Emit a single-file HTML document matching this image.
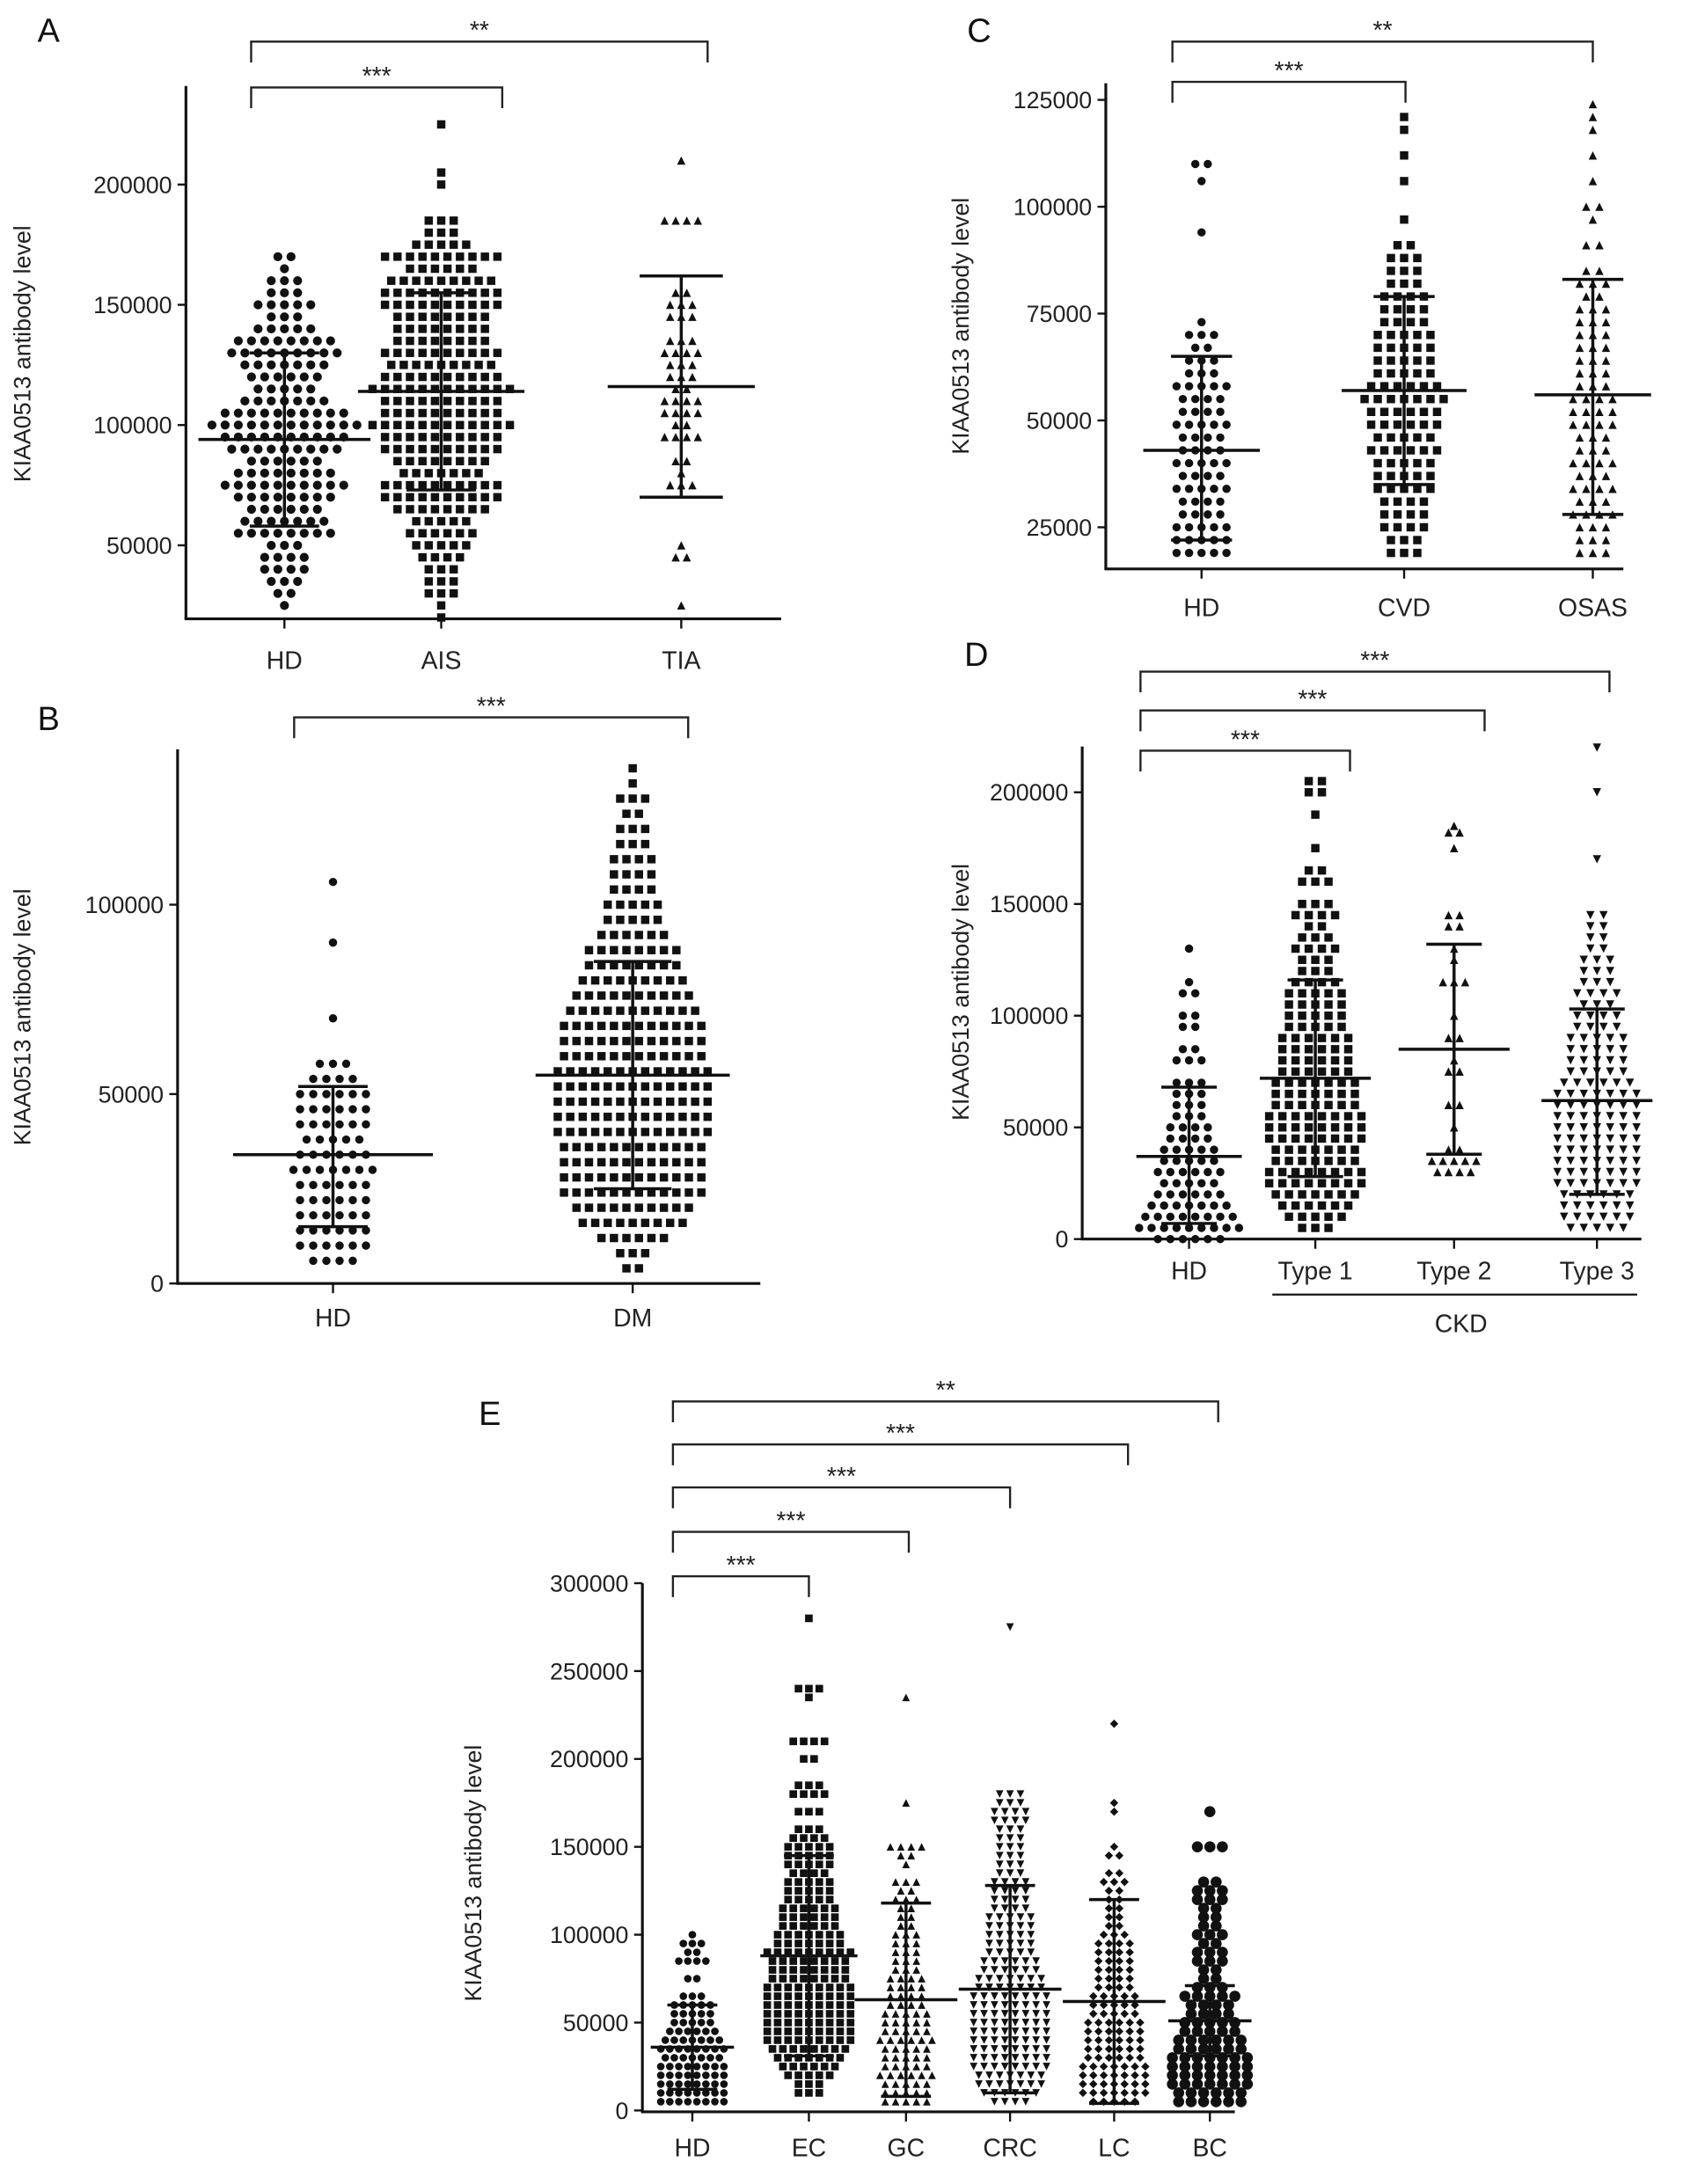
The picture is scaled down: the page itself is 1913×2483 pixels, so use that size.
<!DOCTYPE html>
<html><head><meta charset="utf-8"><style>
html,body{margin:0;padding:0;background:#fff;}
svg{display:block;font-family:"Liberation Sans",Arial,sans-serif;}
</style></head><body>
<svg id="fig" width="1913" height="2483" viewBox="0 0 1213 1574" preserveAspectRatio="none" xmlns="http://www.w3.org/2000/svg"></svg>
<script>
// ---------- DATA (values in thousands; [level, count of dots at that level]) ----------
const aCats=["HD","AIS","TIA"];
const aMeans=[94,114,116], aSdHi=[130,155,162], aSdLo=[58,73,70];
const aHD=[[25,1],[30,2],[35,3],[40,4],[45,4],[50,3],[55,8],[60,7],[65,6],[70,8],[75,10],[80,8],[85,6],[90,9],[95,10],[100,12],[105,10],[110,7],[115,5],[120,6],[125,7],[130,9],[135,8],[140,5],[145,3],[150,5],[155,3],[160,3],[165,1],[170,2]];
const aAIS=[[20,1],[25,1],[30,3],[35,3],[40,3],[45,4],[50,5],[55,6],[60,5],[65,8],[70,10],[75,10],[80,7],[85,8],[90,10],[95,10],[100,12],[105,10],[110,10],[115,12],[120,10],[125,9],[130,10],[135,8],[140,8],[145,8],[150,10],[155,10],[160,9],[165,6],[170,10],[175,5],[180,3],[185,3],[200,1],[205,1],[225,1]];
const aTIA=[[25,1],[45,2],[50,1],[75,3],[80,1],[85,2],[95,4],[100,2],[105,4],[110,4],[115,2],[120,3],[125,3],[130,4],[135,3],[145,3],[150,3],[155,2],[185,4],[210,1]];
const aTicks=[50,100,150,200];

const bCats=["HD","DM"];
const bMeans=[34,55], bSdHi=[52,85], bSdLo=[15,25];
const bHD=[[6,4],[10,6],[14,6],[18,6],[22,6],[26,6],[30,7],[34,6],[38,5],[42,6],[46,6],[50,6],[54,4],[58,3],[70,1],[90,1],[106,1]];
const bDM=[[4,2],[8,3],[12,6],[16,9],[20,10],[24,12],[28,12],[32,12],[36,12],[40,13],[44,13],[48,13],[52,13],[56,13],[60,12],[64,12],[68,12],[72,11],[76,10],[80,9],[84,8],[88,8],[92,6],[96,5],[100,5],[104,4],[108,4],[112,4],[116,3],[120,3],[124,2],[128,3],[132,1],[136,1]];
const bTicks=[0,50,100];

const cCats=["HD","CVD","OSAS"];
const cMeans=[43,57,56], cSdHi=[65,79,83], cSdLo=[22,35,28];
const cHD=[[19,5],[22,5],[25,5],[28,4],[31,4],[34,5],[37,4],[40,5],[43,4],[46,4],[49,5],[52,4],[55,4],[58,5],[61,3],[64,3],[67,2],[70,3],[73,1],[94,1],[106,1],[110,2]];
const cCVD=[[19,3],[22,3],[25,4],[28,4],[31,4],[34,5],[37,5],[40,5],[43,6],[46,5],[49,6],[52,6],[55,7],[58,6],[61,5],[64,5],[67,5],[70,5],[73,4],[76,4],[79,4],[82,3],[85,3],[88,3],[91,2],[97,1],[106,1],[112,1],[118,1],[121,1]];
const cOSAS=[[19,3],[22,3],[25,3],[28,4],[31,3],[34,4],[37,3],[40,4],[43,3],[46,3],[49,4],[52,4],[55,4],[58,3],[61,3],[64,3],[67,3],[70,3],[73,3],[76,3],[79,2],[82,3],[85,2],[91,2],[97,1],[100,2],[106,1],[112,1],[118,1],[121,1],[124,1]];
const cTicks=[25,50,75,100,125];

const dCats=["HD","Type 1","Type 2","Type 3"];
const dMeans=[37,72,85,62], dSdHi=[68,116,132,103], dSdLo=[7,28,38,20];
const dHD=[[0,6],[5,9],[10,8],[15,7],[20,6],[25,5],[30,6],[35,5],[40,5],[45,4],[50,4],[55,3],[60,3],[65,3],[70,3],[80,3],[85,2],[95,2],[100,2],[110,2],[115,1],[130,1]];
const dT1=[[5,3],[10,5],[15,6],[20,7],[25,8],[30,8],[35,7],[40,7],[45,8],[50,8],[55,8],[60,7],[65,7],[70,7],[75,6],[80,6],[85,6],[90,6],[95,5],[100,5],[105,5],[110,5],[115,4],[120,3],[125,3],[130,4],[135,3],[140,2],[145,4],[150,3],[160,3],[165,2],[175,1],[190,1],[200,2],[205,2]];
const dT2=[[30,4],[35,5],[40,2],[50,1],[60,2],[75,2],[80,1],[90,2],[100,1],[115,3],[125,1],[130,1],[140,2],[145,2],[175,1],[182,2],[185,1]];
const dT3=[[5,5],[10,6],[15,6],[20,6],[25,7],[30,7],[35,7],[40,7],[45,7],[50,7],[55,7],[60,7],[65,7],[70,6],[75,5],[80,5],[85,5],[90,5],[95,4],[100,4],[105,3],[110,4],[115,3],[120,3],[125,3],[130,2],[135,2],[140,2],[145,2],[170,1],[200,1],[220,1]];
const dTicks=[0,50,100,150,200];

const eCats=["HD","EC","GC","CRC","LC","BC"];
const eMeans=[36,88,63,69,62,51], eSdHi=[60,145,118,128,120,71], eSdLo=[12,31,8,10,4,31];
const eHD=[[5,8],[10,8],[15,8],[20,8],[25,8],[30,7],[35,8],[40,7],[45,6],[50,5],[55,5],[60,5],[65,3],[75,2],[85,4],[90,2],[95,3],[100,1]];
const eEC=[[10,3],[15,3],[20,5],[25,6],[30,7],[35,8],[40,9],[45,9],[50,9],[55,9],[60,9],[65,9],[70,9],[75,8],[80,8],[85,8],[90,9],[95,7],[100,7],[105,6],[110,6],[115,6],[120,5],[125,5],[130,5],[135,4],[140,5],[145,5],[150,5],[155,4],[160,3],[170,3],[180,4],[185,3],[200,2],[210,4],[235,1],[240,3],[280,1]];
const eGC=[[5,5],[10,5],[15,5],[20,6],[25,5],[30,5],[35,5],[40,6],[45,5],[50,5],[55,5],[60,4],[65,4],[70,4],[75,4],[80,3],[85,3],[90,3],[95,3],[100,3],[105,2],[110,2],[115,2],[120,3],[125,2],[130,3],[140,1],[145,2],[150,4],[175,1],[235,1]];
const eCRC=[[5,4],[10,6],[15,7],[20,7],[25,8],[30,8],[35,8],[40,8],[45,8],[50,8],[55,8],[60,8],[65,8],[70,7],[75,7],[80,6],[85,6],[90,5],[95,5],[100,5],[105,5],[110,5],[115,4],[120,4],[125,4],[130,4],[135,3],[140,3],[145,3],[150,3],[155,3],[160,3],[165,4],[170,4],[175,3],[180,3],[275,1]];
const eLC=[[5,5],[10,7],[15,7],[20,7],[25,7],[30,6],[35,6],[40,6],[45,6],[50,6],[55,5],[60,5],[65,5],[70,4],[75,4],[80,4],[85,4],[90,4],[95,4],[100,3],[105,2],[110,2],[115,2],[120,2],[125,2],[130,3],[135,2],[145,2],[150,1],[170,1],[175,1],[220,1]];
const eBC=[[5,6],[10,6],[15,7],[20,7],[25,7],[30,7],[35,6],[40,6],[45,5],[50,5],[55,4],[60,4],[65,5],[70,3],[75,2],[80,2],[85,3],[90,3],[95,2],[100,3],[105,2],[110,2],[115,2],[120,3],[125,3],[130,2],[150,3],[170,1]];
const eTicks=[0,50,100,150,200,250,300];

// ---------- DRAWING ----------
const NS="http://www.w3.org/2000/svg";
const svg=document.getElementById('fig');
function el(tag,attrs,parent,txt){const e=document.createElementNS(NS,tag);for(const k in attrs)e.setAttribute(k,attrs[k]);if(txt!==undefined)e.textContent=txt;(parent||svg).appendChild(e);return e;}
function fmt(v){return String(Math.round(v*1000));}

function marker(g,shape,x,y,s){
  let m;
  if(shape==='circle'){m=el('circle',{cx:x,cy:y,r:s/2,fill:'#111'},g);}
  else if(shape==='square'){m=el('rect',{x:x-s/2,y:y-s/2,width:s,height:s,fill:'#111'},g);}
  else if(shape==='up'){m=el('polygon',{points:`${x},${y-s/2} ${x-s/2},${y+s/2} ${x+s/2},${y+s/2}`,fill:'#111'},g);}
  else if(shape==='down'){m=el('polygon',{points:`${x},${y+s/2} ${x-s/2},${y-s/2} ${x+s/2},${y-s/2}`,fill:'#111'},g);}
  else {m=el('polygon',{points:`${x},${y-s/2} ${x-s/2},${y} ${x},${y+s/2} ${x+s/2},${y}`,fill:'#111'},g);}
  
  
}

function panel(p){
  const g=el('g',{});
  
  
  const yOf=v=>p.y0+(v-p.v0)*(p.y1-p.y0)/(p.v1-p.v0);
  const L=el('text',{x:p.letter[0],y:p.letter[1],'font-size':24,fill:'#111'},g,p.letterText);
  
  const ya=el('line',{x1:p.ax,y1:p.axTop,x2:p.ax,y2:p.axBot,stroke:'#111','stroke-width':2},g);
  
  const xa=el('line',{x1:p.ax-1,y1:p.axBot,x2:p.axRight,y2:p.axBot,stroke:'#111','stroke-width':2},g);
  
  p.ticks.forEach(t=>{
    const y=yOf(t);
    el('line',{x1:p.ax-6,y1:y,x2:p.ax,y2:y,stroke:'#111','stroke-width':1.5},g);
    const tl=el('text',{x:p.ax-10,y:y+6,'font-size':17,'text-anchor':'end',fill:'#222'},g,fmt(t));
    
  });
  const yt=el('text',{transform:`translate(${p.titleX},${p.titleY}) rotate(-90)`,'font-size':17,'text-anchor':'middle',fill:'#222'},g,'KIAA0513 antibody level');
  
  p.cats.forEach((c,i)=>{
    const x=p.xs[i];
    el('line',{x1:x,y1:p.axBot,x2:x,y2:p.axBot+7,stroke:'#111','stroke-width':1.5},g);
    const xl=el('text',{x:x,y:p.labelY,'font-size':18,'text-anchor':'middle',fill:'#222'},g,c);
    
    const gr=el('g',{},g);
    
    
    const sp=p.sp[i], sz=p.sz[i];
    p.data[i].forEach(([v,n])=>{
      const y=yOf(v);
      for(let k=0;k<n;k++){const off=(k-(n-1)/2)*sp;marker(gr,p.shapes[i],x+off,y,sz);}
    });
    const mh=p.meanHalf[i], sh=p.sdHalf[i];
    const eb=el('g',{stroke:'#111','stroke-width':2.2},gr);
    
    el('line',{x1:x,y1:yOf(p.hi[i]),x2:x,y2:yOf(p.lo[i])},eb);
    el('line',{x1:x-mh,y1:yOf(p.means[i]),x2:x+mh,y2:yOf(p.means[i])},eb);
    el('line',{x1:x-sh,y1:yOf(p.hi[i]),x2:x+sh,y2:yOf(p.hi[i])},eb);
    el('line',{x1:x-sh,y1:yOf(p.lo[i]),x2:x+sh,y2:yOf(p.lo[i])},eb);
  });
  p.brackets.forEach(b=>{
    const bg=el('g',{},g);
    
    el('path',{d:`M${b[0]},${b[2]+15} V${b[2]} H${b[1]} V${b[2]+15}`,fill:'none',stroke:'#222','stroke-width':1.5},bg);
    el('text',{x:(b[0]+b[1])/2,y:b[2]-2,'font-size':18,'text-anchor':'middle',fill:'#222'},bg,b[3]);
  });
  return g;
}

panel({name:'panel-a',letterText:'A',letter:[27,30],ax:134,axTop:62,axBot:446,axRight:563,y0:393,v0:50,y1:133,v1:200,
  ticks:aTicks,titleX:22,titleY:255,cats:aCats,xs:[205,318,491],labelY:482,
  data:[aHD,aAIS,aTIA],shapes:['circle','square','up'],sp:[9.5,9,8],sz:[6.5,6,6],
  means:aMeans,hi:aSdHi,lo:aSdLo,meanHalf:[62,60,53],sdHalf:[25,25,30],
  brackets:[[181,510,30,'**'],[181,362,63,'***']]});

panel({name:'panel-b',letterText:'B',letter:[27,526],ax:128,axTop:540,axBot:925,axRight:548,y0:925,v0:0,y1:652,v1:100,
  ticks:bTicks,titleX:22,titleY:733,cats:bCats,xs:[240,456],labelY:956,
  data:[bHD,bDM],shapes:['circle','square'],sp:[9.5,9],sz:[6,6],
  means:bMeans,hi:bSdHi,lo:bSdLo,meanHalf:[72,70],sdHalf:[25,28],
  brackets:[[212,496,517,'***']]});

panel({name:'panel-c',letterText:'C',letter:[697,30],ax:797,axTop:60,axBot:410,axRight:1170,y0:380,v0:25,y1:72,v1:125,
  ticks:cTicks,titleX:698,titleY:235,cats:cCats,xs:[866,1012,1148],labelY:444,
  data:[cHD,cCVD,cOSAS],shapes:['circle','square','up'],sp:[9,9.5,9.5],sz:[6,6,6],
  means:cMeans,hi:cSdHi,lo:cSdLo,meanHalf:[42,45,42],sdHalf:[22,22,22],
  brackets:[[845,1148,30,'**'],[845,1013,59,'***']]});

panel({name:'panel-d',letterText:'D',letter:[695,480],ax:780,axTop:538,axBot:893,axRight:1183,y0:893,v0:0,y1:571,v1:200,
  ticks:dTicks,titleX:698,titleY:715,cats:dCats,xs:[857,948,1048,1151],labelY:922,
  data:[dHD,dT1,dT2,dT3],shapes:['circle','square','up','down'],sp:[9,9.5,8,9.5],sz:[6,6,6,6],
  means:dMeans,hi:dSdHi,lo:dSdLo,meanHalf:[38,40,40,40],sdHalf:[20,20,20,20],
  brackets:[[822,1160,484,'***'],[822,1070,512,'***'],[822,973,541,'***']]});
(function(){
  const c=el('line',{x1:917,y1:933,x2:1180,y2:933,stroke:'#222','stroke-width':1.5});
  
  const t=el('text',{x:1053,y:960,'font-size':18,'text-anchor':'middle',fill:'#222'},svg,'CKD');
  
})();

panel({name:'panel-e',letterText:'E',letter:[345,1027],ax:463,axTop:1141,axBot:1522,axRight:890,y0:1521,v0:0,y1:1141,v1:300,
  ticks:eTicks,titleX:347,titleY:1350,cats:eCats,xs:[499,583,653,728,803,872],labelY:1554,
  data:[eHD,eEC,eGC,eCRC,eLC,eBC],shapes:['circle','square','up','down','diamond','circle'],sp:[6.5,7.5,7.5,7.5,7.5,9],sz:[5.5,5.5,5.5,5.5,6,8],
  means:eMeans,hi:eSdHi,lo:eSdLo,meanHalf:[30,35,37,37,37,30],sdHalf:[18,18,18,18,18,18],
  brackets:[[485,878,1010,'**'],[485,813,1041,'***'],[485,728,1072,'***'],[485,655,1104,'***'],[485,583,1136,'***']]});
</script>
</body></html>
